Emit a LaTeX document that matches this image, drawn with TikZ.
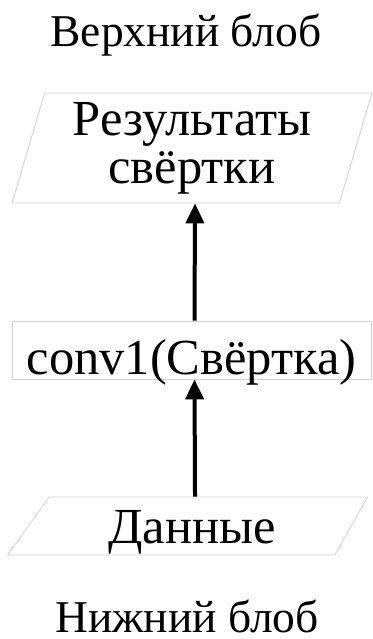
\documentclass[tikz,border=0pt]{standalone}
\usepackage{fontspec}
\setmainfont{Liberation Serif}
\usetikzlibrary{arrows.meta,shapes.geometric,positioning}

\tikzset{
  blob/.style={trapezium, trapezium stretches=true, draw=gray!35, line width=0.8pt,
    align=center, inner sep=0pt, font=\fontsize{50.5}{48}\selectfont},
  layer/.style={rectangle, draw=gray!35, line width=0.8pt, inner sep=0pt,
    font=\fontsize{50.5}{48}\selectfont},
  caption/.style={anchor=base, text depth=0pt, font=\fontsize{45.5}{48}\selectfont},
  flow/.style={-{Triangle[length=20pt,width=18pt]}, line width=4pt},
}

\begin{document}
\begin{tikzpicture}[x=1pt,y=-1pt]
  \useasboundingbox (0,0) rectangle (372,639);

  \node[caption] (topname) at (186,47) {Верхний блоб};
  \node[caption] (bottomname) at (187,632) {Нижний блоб};

  % blobs and the layer between them
  \node[blob, trapezium left angle=74, trapezium right angle=106,
    minimum width=360pt, minimum height=110pt] (result) at (192,148)
    {Результаты\\свёртки};
  \node[layer, minimum width=359pt, minimum height=58pt,
    text height=48pt, text depth=0pt] (conv) at (191.5,350) {conv1(Свёртка)};
  \node[blob, trapezium left angle=56, trapezium right angle=118,
    minimum width=360pt, minimum height=58pt,
    text height=35pt, text depth=1pt] (data) at (192,526) {Данные};

  \draw[flow] ([xshift=3pt]data.north) -- ([xshift=3pt]conv.south);
  \draw[flow] ([xshift=3pt]conv.north) -- ([xshift=3pt]result.south);
\end{tikzpicture}
\end{document}
